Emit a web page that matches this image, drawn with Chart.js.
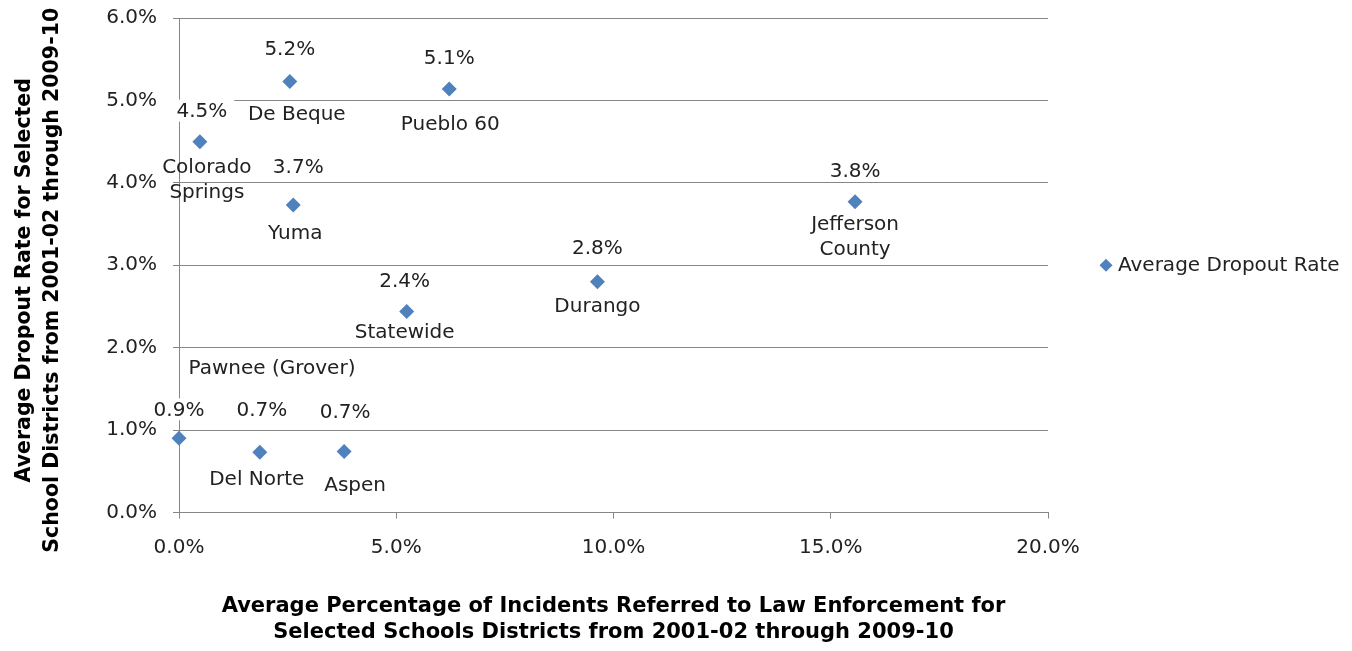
<!DOCTYPE html>
<html lang="en">
<head>
<meta charset="UTF-8">
<title>Dropout Rate vs Law Enforcement Referrals</title>
<script src="https://cdn.jsdelivr.net/npm/chart.js"></script>
<style>
  html, body { margin: 0; padding: 0; background: #fff; }
  #wrap { width: 1352px; height: 651px; }
</style>
</head>
<body>
<div id="wrap"><canvas id="myChart" width="1352" height="651"></canvas></div>
<script>
// districts (values in percent)
const districts = ['Pawnee (Grover)', 'Del Norte', 'Aspen', ['Colorado', 'Springs'], 'De Beque',
                   'Yuma', 'Pueblo 60', 'Statewide', 'Durango', ['Jefferson', 'County']];
const referralPct = [0.0, 1.86, 3.80, 0.48, 2.55, 2.63, 6.22, 5.24, 9.63, 15.56];
const dropoutRate = [0.90, 0.73, 0.74, 4.50, 5.23, 3.73, 5.14, 2.44, 2.80, 3.77];
const seriesName = 'Average Dropout Rate';
const xTitle = ['Average Percentage of Incidents Referred to Law Enforcement for',
                'Selected Schools Districts from 2001-02 through 2009-10'];
const yTitle = ['Average Dropout Rate for Selected',
                'School Districts from 2001-02 through 2009-10'];

// label placement (pixel offsets from each point), same order as districts
const valueOffsets = [[0, -28], [2, -42], [1, -39], [2, -30], [0, -32], [5, -37], [0, -30], [-2, -30], [0, -33], [0, -30]];
const nameOffsets = [[93, -70], [-3, 27], [11, 34], [7, 26], [7, 33], [2, 29], [1, 36], [-2, 21], [0, 25], [0, 23]];

const gridGray = '#868686';
const textDark = '#222';
const blue = '#4F81BD';
const bodyFont = '"DejaVu Sans", "Liberation Sans", sans-serif';

const pointLabels = {
  id: 'pointLabels',
  afterDatasetsDraw(chart) {
    const ctx = chart.ctx;
    const meta = chart.getDatasetMeta(0);
    ctx.save();
    ctx.font = '20px ' + bodyFont;
    ctx.textAlign = 'center';
    ctx.textBaseline = 'middle';
    meta.data.forEach((pt, i) => {
      const txt = dropoutRate[i].toFixed(1) + '%';
      const cx = pt.x + valueOffsets[i][0], cy = pt.y + valueOffsets[i][1];
      const w = ctx.measureText(txt).width;
      ctx.fillStyle = '#fff';
      ctx.fillRect(cx - w / 2 - 7, cy - 12, w + 14, 22);
      ctx.fillStyle = textDark;
      ctx.fillText(txt, cx, cy);
    });
    ctx.fillStyle = textDark;
    meta.data.forEach((pt, i) => {
      const lines = [].concat(districts[i]);
      lines.forEach((ln, k) => {
        ctx.fillText(ln, pt.x + nameOffsets[i][0], pt.y + nameOffsets[i][1] + k * 25);
      });
    });
    ctx.restore();
  }
};

// legend on the right and the two-line vertical axis title
const extras = {
  id: 'extras',
  afterDraw(chart) {
    const ctx = chart.ctx;
    const area = chart.chartArea;
    const x = area.right + 58, y = (area.top + area.bottom) / 2;
    ctx.save();
    ctx.fillStyle = blue;
    ctx.beginPath();
    ctx.moveTo(x, y - 6.5);
    ctx.lineTo(x + 6.5, y);
    ctx.lineTo(x, y + 6.5);
    ctx.lineTo(x - 6.5, y);
    ctx.closePath();
    ctx.fill();
    ctx.fillStyle = textDark;
    ctx.font = '20px ' + bodyFont;
    ctx.textAlign = 'left';
    ctx.textBaseline = 'middle';
    ctx.fillText(seriesName, x + 12, y + 1);

    ctx.fillStyle = '#000';
    ctx.font = 'bold 20.5px ' + bodyFont;
    ctx.textAlign = 'center';
    ctx.translate(25, y + 15);
    ctx.rotate(-Math.PI / 2);
    yTitle.forEach((ln, k) => ctx.fillText(ln, 0, k * 28));
    ctx.restore();
  }
};

const pct = v => Number(v).toFixed(1) + '%';

new Chart(document.getElementById('myChart'), {
  type: 'scatter',
  data: {
    datasets: [{
      label: seriesName,
      data: referralPct.map((x, i) => ({ x: x, y: dropoutRate[i] })),
      pointStyle: 'rectRot',
      pointRadius: 7.5,
      backgroundColor: blue,
      borderColor: blue,
      borderWidth: 0,
      clip: false
    }]
  },
  options: {
    responsive: false,
    animation: false,
    layout: { autoPadding: false, padding: { top: 18, right: 304, bottom: 0, left: 0 } },
    plugins: { legend: { display: false }, tooltip: { enabled: false } },
    scales: {
      x: {
        min: 0, max: 20,
        afterFit(scale) { scale.height = 138.5; scale.paddingLeft = 0; scale.paddingRight = 0; },
        border: { color: gridGray, width: 1 },
        grid: { drawOnChartArea: false, drawTicks: true, tickLength: 6, color: gridGray },
        ticks: { stepSize: 5, padding: 17, color: textDark, font: { family: bodyFont, size: 20 }, callback: pct, maxRotation: 0 },
        title: { display: true, text: xTitle, color: '#000', padding: { top: 0, bottom: 5 },
                 font: { family: bodyFont, size: 21, weight: 'bold', lineHeight: '26px' } }
      },
      y: {
        min: 0, max: 6,
        afterFit(scale) { scale.width = 179; scale.paddingTop = 0; scale.paddingBottom = 0; },
        border: { color: gridGray, width: 1 },
        grid: { color: gridGray, tickLength: 6 },
        ticks: { stepSize: 1, padding: 16, color: textDark, font: { family: bodyFont, size: 20 }, callback: pct }
      }
    }
  },
  plugins: [pointLabels, extras]
});
</script>
</body>
</html>
